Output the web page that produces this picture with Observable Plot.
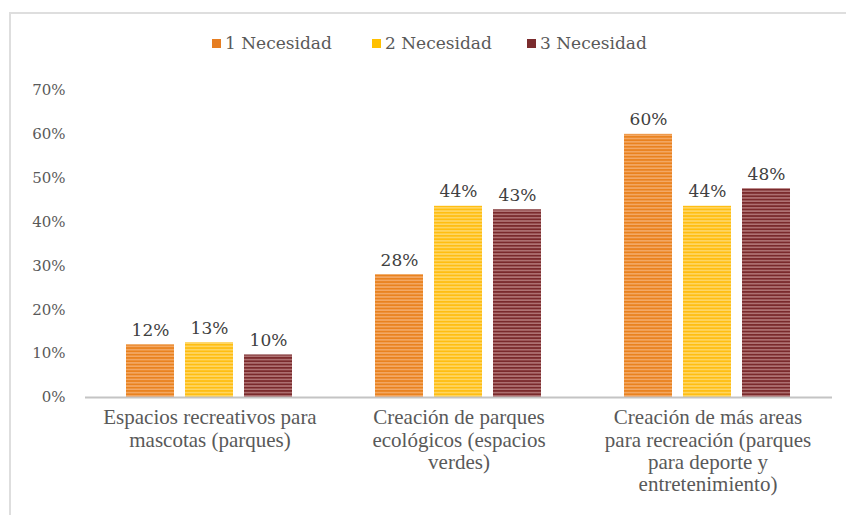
<!DOCTYPE html>
<html>
<head>
<meta charset="utf-8">
<script src="https://cdn.jsdelivr.net/npm/d3@7"></script>
<script src="https://cdn.jsdelivr.net/npm/@observablehq/plot@0.6"></script>
<style>
  html, body { margin: 0; padding: 0; background: #fff; overflow: hidden; width: 846px; height: 515px; }
  #frame { position: absolute; left: 9px; top: 12px; width: 900px; height: 600px; border-left: 2px solid #dedede; border-top: 2px solid #dedede; }
  #legend { position: relative; height: 70px; font-family: "DejaVu Serif", serif; font-size: 17px; color: #595959; }
  .item { position: absolute; top: 33px; display: flex; align-items: center; white-space: nowrap; }
  .sw { width: 9px; height: 9px; margin-right: 4px; }
  #chart { position: relative; }
</style>
</head>
<body>
<div id="frame"></div>
<svg width="0" height="0" style="position:absolute">
  <defs>
    <pattern id="p1" width="4" height="3.3" patternUnits="userSpaceOnUse">
      <rect width="4" height="3.3" fill="#E9821F"/>
      <rect y="1.9" width="4" height="1.2" fill="#F7B57C"/>
    </pattern>
    <pattern id="p2" width="4" height="3.3" patternUnits="userSpaceOnUse">
      <rect width="4" height="3.3" fill="#FFBE12"/>
      <rect y="1.9" width="4" height="1.2" fill="#FFDE7E"/>
    </pattern>
    <pattern id="p3" width="4" height="3.3" patternUnits="userSpaceOnUse">
      <rect width="4" height="3.3" fill="#7A2A2C"/>
      <rect y="1.9" width="4" height="1.2" fill="#C18A8A"/>
    </pattern>
  </defs>
</svg>
<div id="legend"></div>
<div id="chart"></div>
<script>
const categories = [
  "Espacios recreativos para\nmascotas (parques)",
  "Creación de parques\necológicos (espacios\nverdes)",
  "Creación de más areas\npara recreación (parques\npara deporte y\nentretenimiento)"
];
const series = ["1 Necesidad", "2 Necesidad", "3 Necesidad"];
const necesidad1 = [0.12, 0.28, 0.60];
const necesidad2 = [0.125, 0.436, 0.436];
const necesidad3 = [0.097, 0.428, 0.476];
const yTicks = [0, 0.1, 0.2, 0.3, 0.4, 0.5, 0.6, 0.7];
const fills = ["url(#p1)", "url(#p2)", "url(#p3)"];
const swatchColors = ["#E67E22", "#FFC000", "#7B2C2E"];

const valuesBySeries = [necesidad1, necesidad2, necesidad3];
const data = [];
categories.forEach((c, i) => {
  series.forEach((s, j) => {
    data.push({category: c, series: s, value: valuesBySeries[j][i]});
  });
});

// Legend
const legend = document.getElementById("legend");
const legendLeft = [212, 372, 527];
series.forEach((s, j) => {
  const it = document.createElement("div");
  it.className = "item";
  it.style.left = legendLeft[j] + "px";
  it.innerHTML = `<div class="sw" style="background:${swatchColors[j]}"></div><span>${s}</span>`;
  legend.appendChild(it);
});

const pct = d => Math.round(d * 100) + "%";

const chart = Plot.plot({
  width: 846,
  height: 445,
  marginTop: 20,
  marginBottom: 118,
  marginLeft: 85,
  marginRight: 14,
  style: {fontFamily: "DejaVu Serif, serif", background: "transparent"},
  fx: {domain: categories, padding: 0, label: null},
  x: {domain: series, paddingInner: 0.186, paddingOuter: 0.703, axis: null},
  y: {domain: [0, 0.7], axis: null},
  color: {type: "ordinal", domain: series, range: fills},
  marks: [
    Plot.axisY({ticks: yTicks, tickFormat: pct, tickSize: 0, tickPadding: 20, fontSize: 15, fill: "#595959", fontFamily: "DejaVu Serif, serif", label: null}),
    Plot.axisFx({anchor: "bottom", tickSize: 0, tickPadding: 11, lineHeight: 1.06, fontSize: 21, fill: "#595959", fontFamily: "Liberation Serif, serif", label: null}),
    Plot.barY(data, {fx: "category", x: "series", y: "value", fill: "series"}),
    Plot.ruleY([0], {stroke: "#c4c4c4", strokeWidth: 2}),
    Plot.text(data, {fx: "category", x: "series", y: "value", text: d => pct(d.value), lineAnchor: "bottom", dy: -9, fontSize: 17, fill: "#404040", fontFamily: "DejaVu Serif, serif"})
  ]
});
document.getElementById("chart").appendChild(chart);
</script>
</body>
</html>
